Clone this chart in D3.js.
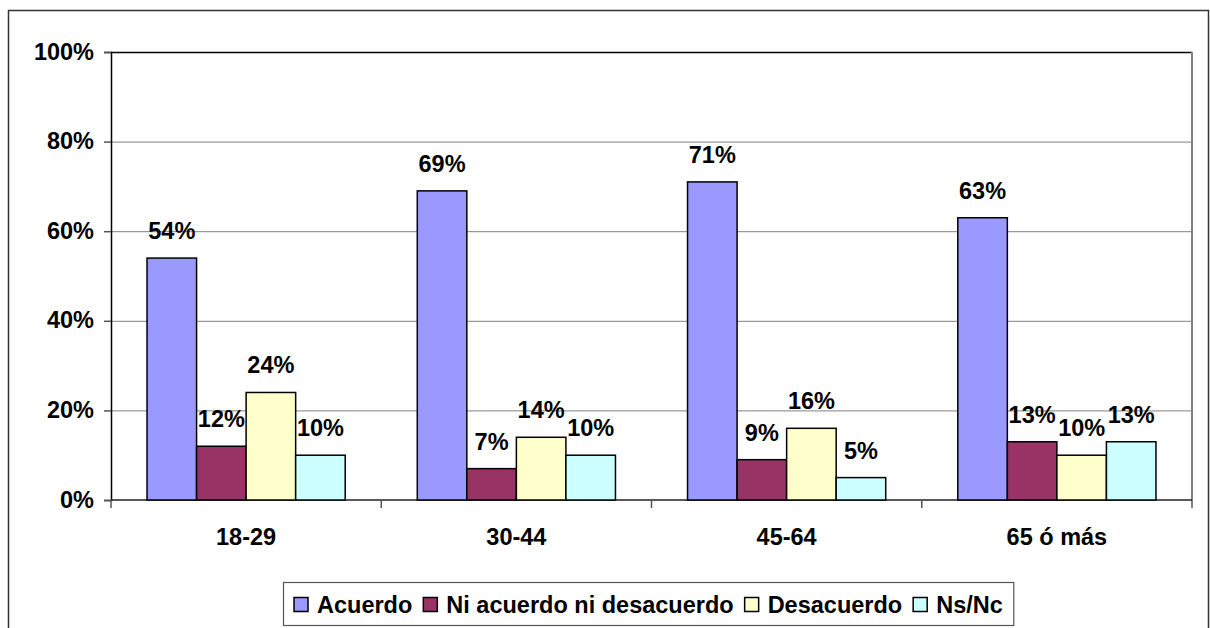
<!DOCTYPE html>
<html>
<head>
<meta charset="utf-8">
<script src="https://cdn.jsdelivr.net/npm/d3@7"></script>
<style>
  html, body { margin: 0; padding: 0; background: #fff; }
  svg { display: block; }
  text { font-family: "Liberation Sans", Arial, sans-serif; font-weight: bold; font-size: 23.5px; fill: #000; }
</style>
</head>
<body>
<svg id="chart" width="1210" height="628"></svg>
<script>
// Age groups along the x axis
const categories = ["18-29", "30-44", "45-64", "65 ó más"];
// Answer series (legend order)
const seriesNames = ["Acuerdo", "Ni acuerdo ni desacuerdo", "Desacuerdo", "Ns/Nc"];
// Percentages per series, one value per age group
const acuerdo = [54, 69, 71, 63];
const niAcuerdo = [12, 7, 9, 13];
const desacuerdo = [24, 14, 16, 10];
const nsnc = [10, 10, 5, 13];
// Y axis ticks
const yTicks = [0, 20, 40, 60, 80, 100];

const seriesValues = [acuerdo, niAcuerdo, desacuerdo, nsnc];
const colors = ["#9999FF", "#993366", "#FFFFCC", "#CCFFFF"];

const svg = d3.select("#chart");

// Outer chart frame
svg.append("rect")
  .attr("x", 8.5).attr("y", 10.5)
  .attr("width", 1200).attr("height", 640)
  .attr("fill", "none").attr("stroke", "#333").attr("stroke-width", 1.5);

const plot = { left: 111, right: 1192, top: 52, bottom: 500 };

const x = d3.scaleBand()
  .domain(categories)
  .range([plot.left, plot.right])
  .paddingInner(0.2667)
  .paddingOuter(0.1333);

const xInner = d3.scaleBand()
  .domain(seriesNames)
  .range([0, x.bandwidth()]);

const y = d3.scaleLinear().domain([0, 100]).range([plot.bottom, plot.top]);

// Horizontal gridlines
svg.append("g")
  .selectAll("line")
  .data(yTicks.filter(t => t > 0 && t < 100))
  .join("line")
  .attr("x1", plot.left).attr("x2", plot.right)
  .attr("y1", d => y(d) + 0.5).attr("y2", d => y(d) + 0.5)
  .attr("stroke", "#808080").attr("stroke-width", 1);

// Plot area top and right border
svg.append("line")
  .attr("x1", plot.left).attr("x2", plot.right)
  .attr("y1", plot.top + 0.5).attr("y2", plot.top + 0.5)
  .attr("stroke", "#000").attr("stroke-width", 1.5);
svg.append("line")
  .attr("x1", plot.right).attr("x2", plot.right)
  .attr("y1", plot.top).attr("y2", plot.bottom + 8)
  .attr("stroke", "#808080").attr("stroke-width", 2);

// Y axis
const yAxis = d3.axisLeft(y)
  .tickValues(yTicks)
  .tickSize(7)
  .tickPadding(10)
  .tickFormat(d => d + "%");
const gy = svg.append("g").attr("transform", `translate(${plot.left},0)`).call(yAxis);
gy.select(".domain").attr("stroke", "#000").attr("stroke-width", 1.5);
gy.selectAll(".tick line").attr("stroke", "#555").attr("stroke-width", 1.5);
gy.selectAll(".tick text")
  .attr("font-size", null).attr("font-family", null)
  .style("font-size", "23.5px").attr("dy", "0.3em");
gy.attr("font-size", null).attr("font-family", null);

// X axis: baseline plus separators between groups
svg.append("line")
  .attr("x1", plot.left).attr("x2", plot.right)
  .attr("y1", plot.bottom).attr("y2", plot.bottom)
  .attr("stroke", "#222").attr("stroke-width", 1.5);
const step = x.step();
svg.append("g")
  .selectAll("line")
  .data(d3.range(categories.length))
  .join("line")
  .attr("x1", i => plot.left + i * step).attr("x2", i => plot.left + i * step)
  .attr("y1", plot.bottom).attr("y2", plot.bottom + 8)
  .attr("stroke", "#555").attr("stroke-width", 1.5);

svg.append("g")
  .selectAll("text")
  .data(categories)
  .join("text")
  .attr("x", d => x(d) + x.bandwidth() / 2)
  .attr("y", 545)
  .attr("text-anchor", "middle")
  .text(d => d);

// Bars
const groups = svg.append("g")
  .selectAll("g")
  .data(seriesNames.map((name, si) => ({ name, si, values: seriesValues[si] })))
  .join("g");

groups.selectAll("rect")
  .data(s => categories.map((c, ci) => ({ c, v: s.values[ci], s })))
  .join("rect")
  .attr("x", d => x(d.c) + xInner(d.s.name))
  .attr("y", d => y(d.v))
  .attr("width", xInner.bandwidth())
  .attr("height", d => y(0) - y(d.v))
  .attr("fill", d => colors[d.s.si])
  .attr("stroke", "#000")
  .attr("stroke-width", 1.5);

// Value labels
groups.selectAll("text")
  .data(s => categories.map((c, ci) => ({ c, v: s.values[ci], s })))
  .join("text")
  .attr("x", d => x(d.c) + xInner(d.s.name) + xInner.bandwidth() / 2)
  .attr("y", d => y(d.v) - 19)
  .attr("text-anchor", "middle")
  .text(d => d.v + "%");

// Legend
const legend = svg.append("g");
const legendBox = legend.append("rect")
  .attr("fill", "#fff").attr("stroke", "#555").attr("stroke-width", 1.2);
let lx = 294;
seriesNames.forEach((name, i) => {
  legend.append("rect")
    .attr("x", lx).attr("y", 597.5)
    .attr("width", 14).attr("height", 14)
    .attr("fill", colors[i]).attr("stroke", "#000").attr("stroke-width", 1.5);
  const t = legend.append("text")
    .attr("x", lx + 23).attr("y", 613)
    .text(name);
  lx += 23 + t.node().getComputedTextLength() + 11;
});
legendBox
  .attr("x", 283.5).attr("y", 582.5)
  .attr("width", lx - 283.5).attr("height", 43);
</script>
</body>
</html>
